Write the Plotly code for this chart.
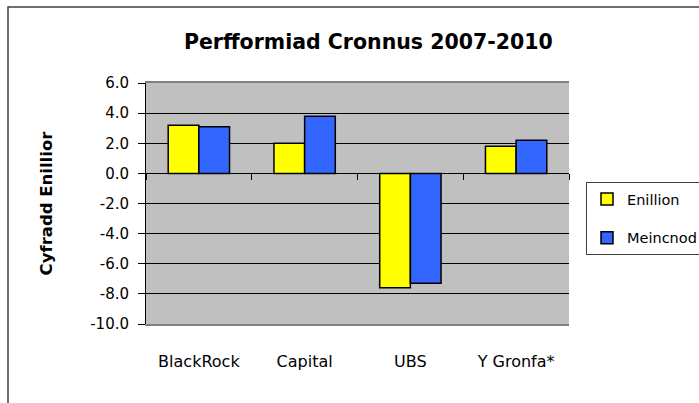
import plotly.graph_objects as go

categories = ["BlackRock", "Capital", "UBS", "Y Gronfa*"]
enillion = [3.2, 2.0, -7.6, 1.8]
meincnod = [3.1, 3.8, -7.3, 2.2]
y_ticks = [6, 4, 2, 0, -2, -4, -6, -8, -10]
y_tick_text = ["6.0", "4.0", "2.0", "0.0", "-2.0", "-4.0", "-6.0", "-8.0", "-10.0"]

FONT = "DejaVu Sans"
bar_line = dict(color="black", width=1.5)

fig = go.Figure()
fig.add_trace(go.Bar(x=categories, y=enillion, name="Enillion", legendgroup="a",
                     marker=dict(color="#FFFF00", line=bar_line)))
fig.add_trace(go.Bar(x=categories, y=meincnod, name="Meincnod", legendgroup="b",
                     marker=dict(color="#3366FF", line=bar_line)))

fig.update_layout(
    width=699, height=403,
    margin=dict(l=146, r=130, t=83, b=79, autoexpand=False),
    paper_bgcolor="white",
    plot_bgcolor="#C0C0C0",
    font=dict(family=FONT, size=15, color="black"),
    barmode="group",
    bargap=0.42,
    bargroupgap=0,
    title=dict(text="<b>Perfformiad Cronnus 2007-2010</b>", font=dict(size=20.5),
               x=0.527, xanchor="center", y=1 - 42 / 403, yanchor="middle"),
    legend=dict(x=(586 - 146) / 423, xanchor="left", y=(324 - 182) / 241, yanchor="top",
                bordercolor="#404040", borderwidth=1, bgcolor="white",
                font=dict(size=14.5), traceorder="grouped", tracegroupgap=17,
                itemwidth=30),
    showlegend=True,
)

fig.update_xaxes(
    automargin=False,
    showgrid=False, ticks="", ticklabelstandoff=22, tickfont=dict(size=16),
    showline=True, linecolor="#808080", linewidth=2, mirror=True,
    zeroline=False,
)
fig.update_yaxes(
    automargin=False,
    range=[-10, 6], tickvals=y_ticks, ticktext=y_tick_text,
    showgrid=True, gridcolor="black", gridwidth=1,
    zeroline=True, zerolinecolor="black", zerolinewidth=1,
    ticks="outside", ticklen=7, tickcolor="black", ticklabelstandoff=6,
    showline=True, linecolor="black", linewidth=1,
    title=dict(text="<b>Cyfradd Enillior</b>", font=dict(size=16.5), standoff=33),
)

# category boundary ticks hanging off the zero line
fig.update_layout(xaxis2=dict(
    overlaying="x", matches="x", anchor="free", position=10 / 16, side="bottom",
    showticklabels=False, ticks="outside", tickson="boundaries", ticklen=6,
    tickcolor="black", showgrid=False, showline=False, zeroline=False,
    automargin=False,
))
fig.add_trace(go.Scatter(x=categories, y=[None] * 4, xaxis="x2", showlegend=False,
                         hoverinfo="skip"))

# outer chart frame
fig.add_shape(type="rect", xref="paper", yref="paper",
              x0=(8 - 146) / 423, x1=1.5, y0=-0.5, y1=(324 - 7) / 241,
              line=dict(color="#404040", width=1.5), layer="below")

# drop the browser's default page margin so the chart sits at the window's corner
fig.write_html("out.html", config={"displayModeBar": False},
               post_script="document.body.style.margin='0';")
